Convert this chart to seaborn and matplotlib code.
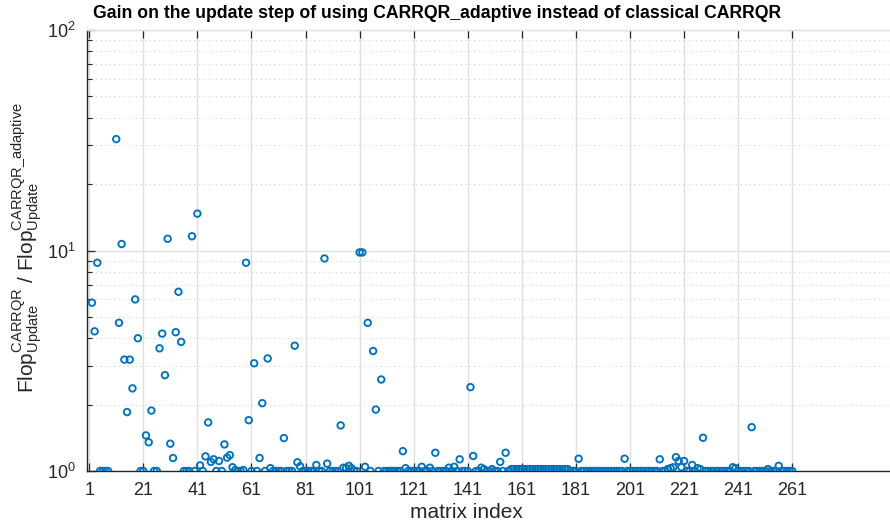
import numpy as np
import pandas as pd
import matplotlib
matplotlib.use("Agg")
import matplotlib.pyplot as plt
import seaborn as sns
from matplotlib.ticker import LogLocator, NullFormatter, FixedLocator

nan = np.nan

# Gain ratio per test matrix (index 1..261); NaN where no value is shown
gain_rows = [
    [nan, 5.8, 4.3, 8.8, 1.0, 1.0, 1.0, 1.0, nan, nan],
    [32.0, 4.7, 10.7, 3.2, 1.85, 3.2, 2.37, 6.0, 4.0, 1.0],
    [1.0, 1.45, 1.35, 1.88, 1.0, 1.0, 3.6, 4.2, 2.72, 11.3],
    [1.33, 1.145, 4.26, 6.5, 3.85, 1.0, 1.0, 1.0, 11.6, 1.0],
    [14.7, 1.06, 1.0, 1.165, 1.66, 1.10, 1.13, 1.0, 1.11, 1.0],
    [1.32, 1.15, 1.18, 1.04, 1.01, 1.0, 1.0, 1.01, 8.8, 1.70],
    [1.0, 3.08, 1.0, 1.145, 2.03, 1.0, 3.24, 1.03, 1.0, 1.0],
    [1.0, 1.0, 1.41, 1.0, 1.0, 1.0, 3.7, 1.095, 1.05, 1.0],
    [1.0, 1.0, 1.0, 1.0, 1.065, 1.0, 1.0, 9.2, 1.08, 1.0],
    [1.0, 1.0, 1.0, 1.61, 1.035, 1.03, 1.056, 1.03, 1.0, 1.0],
    [9.8, 9.8, 1.045, 4.7, 1.0, 3.5, 1.9, 1.0, 2.6, 1.0],
    [1.0, 1.0, 1.0, 1.0, 1.0, 1.0, 1.23, 1.03, 1.0, 1.0],
    [1.0, 1.0, 1.0, 1.045, 1.0, 1.0, 1.035, 1.0, 1.21, 1.0],
    [1.0, 1.0, 1.0, 1.035, 1.0, 1.045, 1.0, 1.13, 1.0, 1.0],
    [1.0, 2.4, 1.17, 1.0, 1.0, 1.035, 1.02, 1.0, 1.0, 1.02],
    [1.0, 1.0, 1.1, 1.0, 1.21, 1.0, 1.02, 1.02, 1.02, 1.02],
    [1.02, 1.02, 1.02, 1.02, 1.02, 1.02, 1.02, 1.02, 1.02, 1.02],
    [1.02, 1.02, 1.02, 1.02, 1.02, 1.02, 1.02, 1.02, 1.0, 1.0],
    [1.0, 1.137, 1.0, 1.0, 1.0, 1.0, 1.0, 1.0, 1.0, 1.0],
    [1.0, 1.0, 1.0, 1.0, 1.0, 1.0, 1.0, 1.0, 1.137, 1.0],
    [1.0, 1.0, 1.0, 1.0, 1.0, 1.0, 1.0, 1.0, 1.0, 1.0],
    [1.0, 1.13, 1.0, 1.0, 1.02, 1.03, 1.04, 1.155, 1.11, 1.04],
    [1.11, 1.0, 1.0, 1.065, 1.0, 1.03, 1.02, 1.415, 1.0, 1.0],
    [1.0, 1.0, 1.0, 1.0, 1.0, 1.0, 1.0, 1.0, 1.04, 1.03],
    [1.0, 1.0, 1.0, 1.0, 1.0, 1.58, 1.0, 1.0, 1.0, 1.0],
    [1.0, 1.02, 1.0, 1.0, 1.0, 1.055, 1.0, 1.0, 1.0, 1.0],
    [1.0],
]
gain = [v for row in gain_rows for v in row]
matrix_index = list(range(1, len(gain) + 1))
xtick_values = list(range(1, 262, 20))

df = pd.DataFrame({"matrix index": matrix_index, "gain": gain}).dropna()

sns.set_theme(style="white")
plt.rcParams["font.family"] = ["Liberation Sans", "DejaVu Sans"]
plt.rcParams["mathtext.fontset"] = "custom"
plt.rcParams["mathtext.rm"] = "Liberation Sans"
plt.rcParams["mathtext.it"] = "Liberation Sans:italic"
plt.rcParams["mathtext.bf"] = "Liberation Sans:bold"

W, H = 890, 525
fig = plt.figure(figsize=(W / 100, H / 100), dpi=100)
fig.patch.set_facecolor("white")

left_px, right_px, top_px, bottom_px = 86.5, 897.7, 30, 471
ax = fig.add_axes([left_px / W, (H - bottom_px) / H,
                   (right_px - left_px) / W, (bottom_px - top_px) / H])

blue = "#0072BD"
sns.scatterplot(data=df, x="matrix index", y="gain", ax=ax, marker="o",
                s=22, linewidth=1.35, zorder=3, clip_on=True)
coll = ax.collections[0]
coll.set_facecolor("none")
coll.set_edgecolor(blue)

ax.set_yscale("log")
ax.set_ylim(1, 100)
ax.set_xlim(0, 300)
ax.xaxis.set_major_locator(FixedLocator(xtick_values))
ax.yaxis.set_major_locator(LogLocator(base=10))
ax.yaxis.set_minor_locator(LogLocator(base=10, subs=np.arange(2, 10)))
ax.yaxis.set_minor_formatter(NullFormatter())

grid_col = "#e0e0e0"
ax.grid(True, which="major", axis="both", color=grid_col, linewidth=1.0, linestyle="-")
ax.grid(True, which="minor", axis="y", color="#d2d2d2", linewidth=0.8, linestyle=(0, (1, 3)))
ax.set_axisbelow(True)

dark = "#262626"
for side in ["left", "bottom"]:
    ax.spines[side].set_color(dark)
    ax.spines[side].set_linewidth(1.0)
ax.spines["top"].set_color(grid_col)
ax.spines["top"].set_linewidth(1.0)
ax.spines["right"].set_visible(False)

ax.tick_params(axis="both", which="major", direction="in", length=6, width=0.9,
               color=dark, labelcolor=dark, labelsize=13)
ax.tick_params(axis="x", top=True, bottom=True, pad=8)
ax.tick_params(axis="y", which="major", left=True, right=False, pad=8)
ax.tick_params(axis="y", which="minor", direction="in", length=3.5, width=0.8,
               color=dark, left=True, right=False)

ax.set_xlabel("")
ax.set_ylabel("")

fig.text(437.5 / W, 1 - 13 / H,
         "Gain on the update step of using CARRQR_adaptive instead of classical CARRQR",
         ha="center", va="center", fontsize=12.7, fontweight="bold", color="black")
fig.text(466 / W, 1 - 513 / H, "matrix index", ha="center", va="center",
         fontsize=15, color=dark)
fig.text(27 / W, 1 - 248 / H,
         r"Flop$^{\mathrm{CARRQR}}_{\mathrm{Update}}$ / Flop$^{\mathrm{CARRQR\_adaptive}}_{\mathrm{Update}}$",
         ha="center", va="center", rotation=90, fontsize=15, color=dark)

fig.savefig("out.png", dpi=100, facecolor="white")
